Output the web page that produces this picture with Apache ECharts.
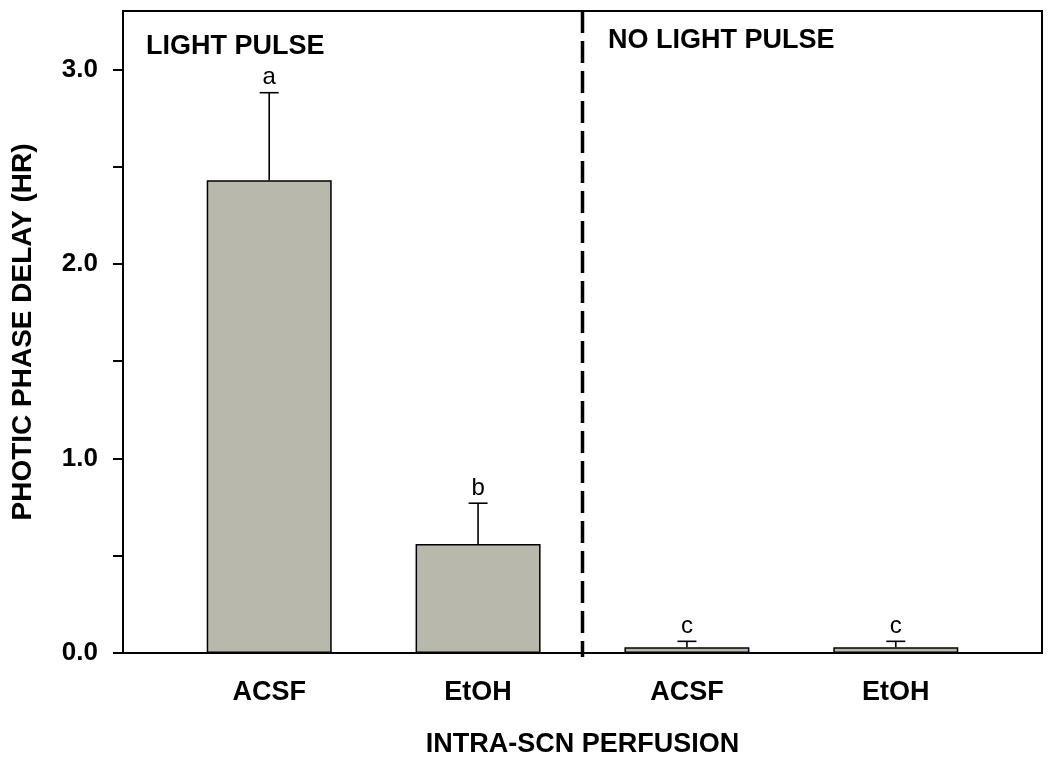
<!DOCTYPE html>
<html>
<head>
<meta charset="utf-8">
<script src="https://cdn.jsdelivr.net/npm/echarts@6/dist/echarts.min.js"></script>
<style>
  html, body { margin: 0; padding: 0; background: #fff; }
  #chart { width: 1050px; height: 766px; }
</style>
</head>
<body>
<div id="chart"></div>
<script>
// data
const positions = [1, 2, 3, 4];
const categories = ['ACSF', 'EtOH', 'ACSF', 'EtOH'];
const means = [2.43, 0.56, 0.03, 0.03];
const sems = [0.45, 0.21, 0.03, 0.03];
const letters = ['a', 'b', 'c', 'c'];
const dividerX = 2.5;
const yTicks = [0, 0.5, 1.0, 1.5, 2.0, 2.5, 3.0];
const yLabels = [0, 1, 2, 3];

const font = '"Liberation Sans", Arial, sans-serif';

const chart = echarts.init(document.getElementById('chart'));

const barData = positions.map((x, i) => [x, means[i]]);
const errData = positions.map((x, i) => [x, means[i], sems[i], letters[i]]);

const option = {
    backgroundColor: '#fff',
    animation: false,
    title: [
        {
            text: 'LIGHT PULSE',
            left: 141, top: 28,
            textStyle: { fontFamily: font, fontSize: 27, fontWeight: 'bold', color: '#000' }
        },
        {
            text: 'NO LIGHT PULSE',
            left: 603, top: 22,
            textStyle: { fontFamily: font, fontSize: 27, fontWeight: 'bold', color: '#000' }
        }
    ],
    grid: {
        left: 123, right: 8, top: 11, bottom: 113,
        show: true, borderColor: '#000', borderWidth: 2,
        containLabel: false
    },
    xAxis: {
        type: 'value',
        min: 0.3, max: 4.7,
        name: 'INTRA-SCN PERFUSION',
        nameLocation: 'middle',
        nameGap: 78,
        nameTextStyle: { fontFamily: font, fontSize: 27, fontWeight: 'bold', color: '#000' },
        splitLine: { show: false },
        axisLine: { lineStyle: { color: '#000', width: 2 } },
        axisTick: { show: false },
        axisLabel: {
            customValues: positions,
            margin: 26,
            fontFamily: font, fontSize: 27, fontWeight: 'bold', color: '#000',
            formatter: v => categories[positions.indexOf(v)] || ''
        }
    },
    yAxis: {
        type: 'value',
        min: 0, max: 3.3,
        name: 'PHOTIC PHASE DELAY (HR)',
        nameLocation: 'middle',
        nameGap: 86,
        nameTextStyle: { fontFamily: font, fontSize: 28, fontWeight: 'bold', color: '#000' },
        splitLine: { show: false },
        axisLine: { show: true, lineStyle: { color: '#000', width: 2 } },
        axisTick: {
            show: true, length: 10, customValues: yTicks,
            lineStyle: { color: '#000', width: 2 }
        },
        axisLabel: {
            customValues: yLabels,
            margin: 25,
            fontFamily: font, fontSize: 26, fontWeight: 'bold', color: '#000',
            formatter: v => v.toFixed(1)
        }
    },
    series: [
        {
            type: 'bar',
            data: barData,
            barWidth: 125,
            itemStyle: { color: '#b8b8ac', borderColor: '#000', borderWidth: 1.5 }
        },
        {
            type: 'custom',
            data: errData,
            z: 5,
            renderItem: function (params, api) {
                const x = api.value(0);
                const m = api.value(1);
                const e = api.value(2);
                const p0 = api.coord([x, m]);
                const p1 = api.coord([x, m + e]);
                const half = 9.5;
                return {
                    type: 'group',
                    children: [
                        {
                            type: 'line',
                            shape: { x1: p0[0], y1: p0[1], x2: p1[0], y2: p1[1] },
                            style: { stroke: '#000', lineWidth: 1.6 }
                        },
                        {
                            type: 'line',
                            shape: { x1: p1[0] - half, y1: p1[1], x2: p1[0] + half, y2: p1[1] },
                            style: { stroke: '#000', lineWidth: 1.6 }
                        },
                        {
                            type: 'text',
                            style: {
                                text: letters[params.dataIndex],
                                x: p1[0], y: p1[1] - 3,
                                align: 'center', verticalAlign: 'bottom',
                                fontFamily: font, fontSize: 24, fill: '#000'
                            }
                        }
                    ]
                };
            }
        },
        {
            type: 'line',
            data: [[dividerX, 3.3], [dividerX, -0.02]],
            clip: false,
            symbol: 'none',
            silent: true,
            lineStyle: { color: '#000', width: 3.5, type: [22, 8] },
            z: 6
        }
    ]
};

chart.setOption(option);
</script>
</body>
</html>
